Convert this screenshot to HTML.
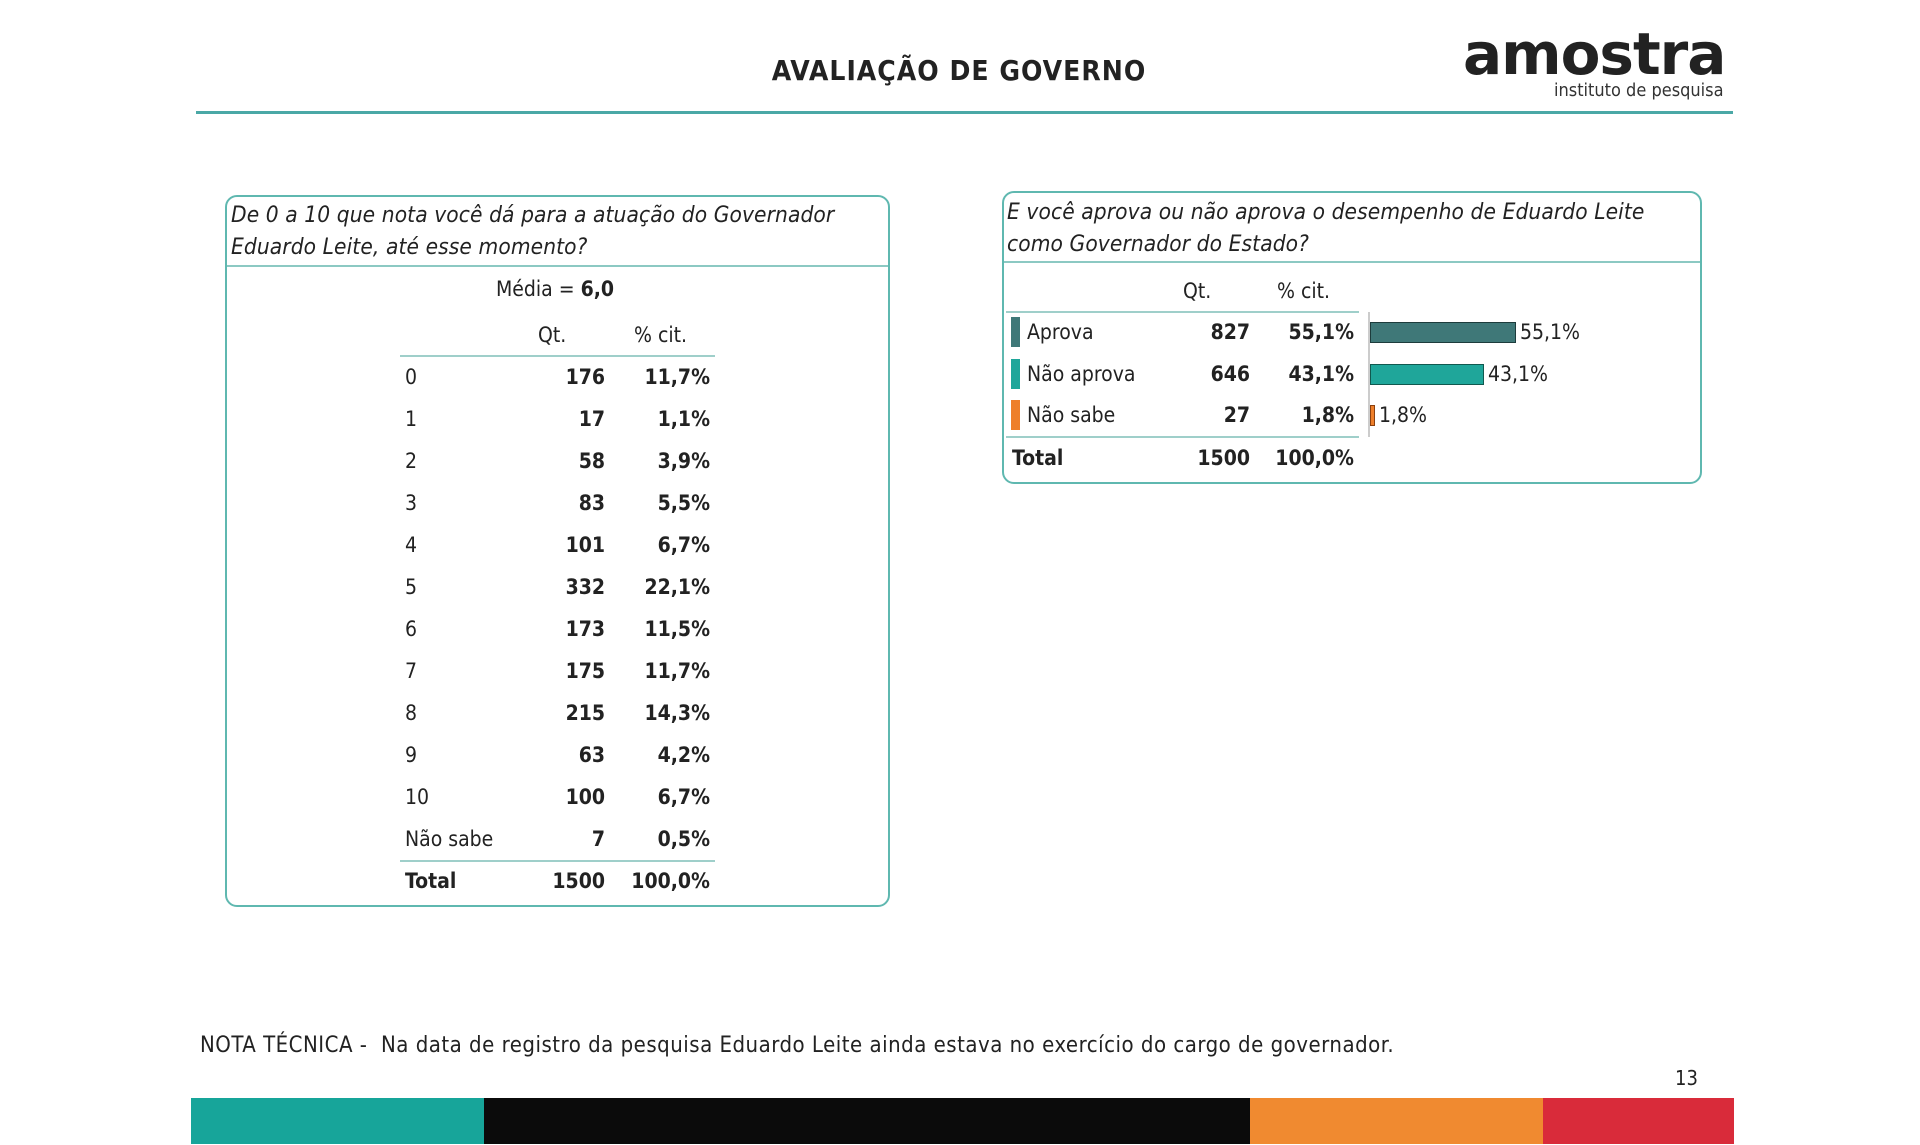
<!DOCTYPE html>
<html><head><meta charset="utf-8"><style>
*{margin:0;padding:0;box-sizing:border-box}
body{width:1920px;height:1145px;background:#fff;position:relative;overflow:hidden;font-family:"DejaVu Sans Condensed","Liberation Sans",sans-serif;color:#222}
.a{position:absolute;white-space:nowrap}
.box{position:absolute;border:2px solid #5fb8b0;border-radius:12px}
.q{font-style:italic;font-size:22.5px;line-height:32px;letter-spacing:0.1px}
.t{font-size:21px}
.r{text-align:right}
.b{font-weight:bold}
.hl{position:absolute;height:2px;background:#9fcfca}
</style></head><body>
<div class="a b" style="left:0;width:1918px;text-align:center;top:54px;font-size:28px;letter-spacing:1px">AVALIAÇÃO DE GOVERNO</div>
<div class="a" style="left:1463px;top:22px;font-size:58px;font-weight:bold;letter-spacing:-1px;font-family:'DejaVu Sans',sans-serif;color:#222;line-height:64px">amostra</div>
<div class="a" style="left:1554px;top:80px;font-size:18px;color:#333">instituto de pesquisa</div>
<div class="a" style="left:196px;top:111px;width:1537px;height:3px;background:#4aa8a6"></div>

<div class="box" style="left:225px;top:195px;width:665px;height:712px"></div>
<div class="a" style="left:227px;top:265px;width:661px;height:2px;background:#8cc9c3"></div>
<div class="a q" style="left:231px;top:199px">De 0 a 10 que nota você dá para a atuação do Governador<br>Eduardo Leite, até esse momento?</div>
<div class="a t" style="left:0;width:1110px;text-align:center;top:277px">Média = <b>6,0</b></div>
<div class="a t" style="left:538px;top:323px">Qt.</div>
<div class="a t" style="left:634px;top:323px">% cit.</div>
<div class="hl" style="left:400px;top:355px;width:315px"></div>
<div class="hl" style="left:400px;top:860px;width:315px"></div>
<div id="L"></div>

<div class="box" style="left:1002px;top:191px;width:700px;height:293px"></div>
<div class="a" style="left:1004px;top:261px;width:696px;height:2px;background:#8cc9c3"></div>
<div class="a q" style="left:1007px;top:196px">E você aprova ou não aprova o desempenho de Eduardo Leite<br>como Governador do Estado?</div>
<div class="a t" style="left:1183px;top:279px">Qt.</div>
<div class="a t" style="left:1277px;top:279px">% cit.</div>
<div class="hl" style="left:1006px;top:311px;width:353px"></div>
<div class="hl" style="left:1006px;top:436px;width:353px"></div>
<div class="a" style="left:1368px;top:312px;width:2px;height:125px;background:#ccc"></div>

<div class="a" style="left:1011px;top:317px;width:9px;height:30px;background:#3f7878"></div>
<div class="a t" style="left:1027px;top:320px">Aprova</div>
<div class="a t b r" style="left:1150px;width:100px;top:320px">827</div>
<div class="a t b r" style="left:1254px;width:100px;top:320px">55,1%</div>
<div class="a" style="left:1370px;top:322px;width:146px;height:21px;background:#3f7878;border:1px solid #1d3c3c"></div>
<div class="a" style="left:1520px;top:320px;font-size:21px">55,1%</div>

<div class="a" style="left:1011px;top:359px;width:9px;height:30px;background:#1fa69a"></div>
<div class="a t" style="left:1027px;top:362px">Não aprova</div>
<div class="a t b r" style="left:1150px;width:100px;top:362px">646</div>
<div class="a t b r" style="left:1254px;width:100px;top:362px">43,1%</div>
<div class="a" style="left:1370px;top:364px;width:114px;height:21px;background:#1fa69a;border:1px solid #11594f"></div>
<div class="a" style="left:1488px;top:362px;font-size:21px">43,1%</div>

<div class="a" style="left:1011px;top:400px;width:9px;height:30px;background:#ee7f2a"></div>
<div class="a t" style="left:1027px;top:403px">Não sabe</div>
<div class="a t b r" style="left:1150px;width:100px;top:403px">27</div>
<div class="a t b r" style="left:1254px;width:100px;top:403px">1,8%</div>
<div class="a" style="left:1370px;top:405px;width:5px;height:21px;background:#ee7f2a;border:1px solid #8a4010"></div>
<div class="a" style="left:1379px;top:403px;font-size:21px">1,8%</div>

<div class="a t b" style="left:1012px;top:446px">Total</div>
<div class="a t b r" style="left:1150px;width:100px;top:446px">1500</div>
<div class="a t b r" style="left:1254px;width:100px;top:446px">100,0%</div>

<div class="a" style="left:200px;top:1033px;font-size:22px;letter-spacing:0.5px">NOTA TÉCNICA -&nbsp; Na data de registro da pesquisa Eduardo Leite ainda estava no exercício do cargo de governador.</div>
<div class="a" style="left:1675px;top:1066px;font-size:20px">13</div>
<div class="a" style="left:191px;top:1098px;width:293px;height:46px;background:#17a59a"></div>
<div class="a" style="left:484px;top:1098px;width:766px;height:46px;background:#0b0b0b"></div>
<div class="a" style="left:1250px;top:1098px;width:293px;height:46px;background:#f08a30"></div>
<div class="a" style="left:1543px;top:1098px;width:191px;height:46px;background:#d92b3a"></div>
<script>
var rows=[["0","176","11,7%"],["1","17","1,1%"],["2","58","3,9%"],["3","83","5,5%"],["4","101","6,7%"],["5","332","22,1%"],["6","173","11,5%"],["7","175","11,7%"],["8","215","14,3%"],["9","63","4,2%"],["10","100","6,7%"],["Não sabe","7","0,5%"],["Total","1500","100,0%"]];
var h="";rows.forEach(function(r,i){var y=365+i*41.96;var tb=i==12?" b":"";
h+='<div class="a t'+tb+'" style="left:405px;top:'+y+'px">'+r[0]+'</div>';
h+='<div class="a t b r" style="left:505px;width:100px;top:'+y+'px">'+r[1]+'</div>';
h+='<div class="a t b r" style="left:600px;width:110px;top:'+y+'px">'+r[2]+'</div>';});
document.getElementById("L").innerHTML=h;
</script>
</body></html>
